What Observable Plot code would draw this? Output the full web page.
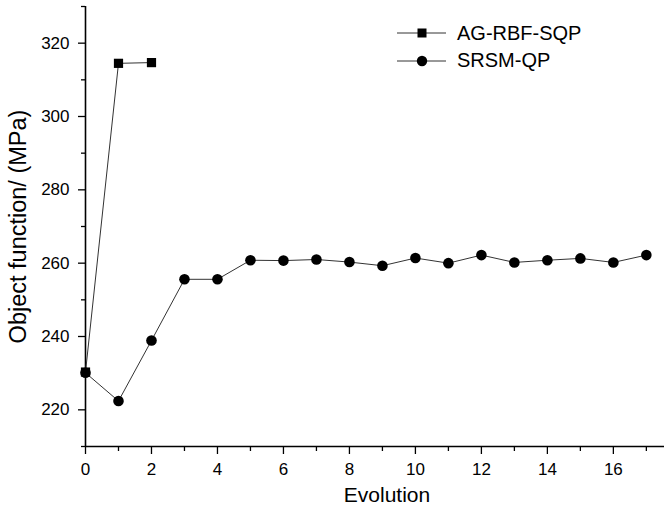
<!DOCTYPE html>
<html>
<head>
<meta charset="utf-8">
<script src="https://cdn.jsdelivr.net/npm/d3@7"></script>
<script src="https://cdn.jsdelivr.net/npm/@observablehq/plot@0.6"></script>
<style>
  body { margin: 0; background: #fff; }
  #wrap { position: relative; width: 664px; height: 506px; font-family: "Liberation Sans", Arial, sans-serif; }
  .leg { position: absolute; left: 397px; height: 20px; display: flex; align-items: center; font-size: 20px; color: #000; white-space: nowrap; }
  .leg svg { margin-right: 11px; }
</style>
</head>
<body>
<div id="wrap"></div>
<script>
// Data
const agSteps = [0, 1, 2];
const agValues = [230.3, 314.5, 314.7];
const srsmSteps = [0, 1, 2, 3, 4, 5, 6, 7, 8, 9, 10, 11, 12, 13, 14, 15, 16, 17];
const srsmValues = [230.1, 222.4, 238.9, 255.6, 255.6, 260.8, 260.7, 261.0, 260.3, 259.3, 261.4, 260.0, 262.2, 260.2, 260.8, 261.3, 260.2, 262.2];
const xMajorTicks = [0, 2, 4, 6, 8, 10, 12, 14, 16];
const xMinorTicks = [1, 3, 5, 7, 9, 11, 13, 15, 17];
const yMajorTicks = [220, 240, 260, 280, 300, 320];
const yMinorTicks = [210, 230, 250, 270, 290, 310, 330];
const seriesNames = ["AG-RBF-SQP", "SRSM-QP"];
const xTitle = "Evolution";
const yTitle = "Object function/ (MPa)";

const ag = agSteps.map((s, i) => ({step: s, value: agValues[i]}));
const srsm = srsmSteps.map((s, i) => ({step: s, value: srsmValues[i]}));

const chart = Plot.plot({
  width: 664,
  height: 506,
  marginLeft: 85,
  marginRight: 0,
  marginTop: 6,
  marginBottom: 60,
  style: { fontFamily: "Liberation Sans, Arial, sans-serif", fontSize: "17px", color: "#000", background: "#fff", overflow: "visible" },
  x: { domain: [0, 17.55], label: null },
  y: { domain: [210, 330], label: null },
  marks: [
    Plot.axisX({ ticks: xMinorTicks, tickSize: 5, tickFormat: () => "", label: null, strokeWidth: 1.3 }),
    Plot.axisX({ ticks: xMajorTicks, tickSize: 8, tickPadding: 8, tickFormat: d => String(d), label: null, strokeWidth: 1.3 }),
    Plot.axisY({ ticks: yMinorTicks, tickSize: 4, tickFormat: () => "", label: null, strokeWidth: 1.3 }),
    Plot.axisY({ ticks: yMajorTicks, tickSize: 7, tickPadding: 9, tickFormat: d => String(d), label: null, strokeWidth: 1.3 }),
    Plot.ruleX([0], { stroke: "#000", strokeWidth: 1.6 }),
    Plot.ruleY([210], { stroke: "#000", strokeWidth: 1.6 }),
    Plot.line(ag, { x: "step", y: "value", stroke: "#333", strokeWidth: 1 }),
    Plot.line(srsm, { x: "step", y: "value", stroke: "#333", strokeWidth: 1 }),
    Plot.dot(ag, { x: "step", y: "value", symbol: "square", r: 5.2, fill: "#000", stroke: "none" }),
    Plot.dot(srsm, { x: "step", y: "value", symbol: "circle", r: 5.3, fill: "#000", stroke: "none" }),
    Plot.text([xTitle], { text: d => d, frameAnchor: "bottom", textAnchor: "middle", lineAnchor: "middle", dy: 49, dx: 12, fontSize: 21, fill: "#000" }),
    Plot.text([yTitle], { text: d => d, frameAnchor: "left", textAnchor: "middle", lineAnchor: "middle", dx: -67, rotate: -90, fontSize: 23.5, fill: "#000" })
  ]
});
const wrap = document.getElementById("wrap");
wrap.appendChild(chart);

// Legend
const legendRows = [
  { name: seriesNames[0], symbol: "square", top: 33.3 },
  { name: seriesNames[1], symbol: "circle", top: 60.7 }
];
for (const row of legendRows) {
  const div = document.createElement("div");
  div.className = "leg";
  div.style.top = (row.top - 10) + "px";
  const marker = row.symbol === "square"
    ? '<rect x="20.5" y="5.5" width="9" height="9" fill="#000"/>'
    : '<circle cx="25" cy="10" r="5.2" fill="#000"/>';
  div.innerHTML = '<svg width="49" height="20"><line x1="0" x2="49" y1="10" y2="10" stroke="#333" stroke-width="1"/>' + marker + '</svg><span>' + row.name + '</span>';
  wrap.appendChild(div);
}
</script>
</body>
</html>
